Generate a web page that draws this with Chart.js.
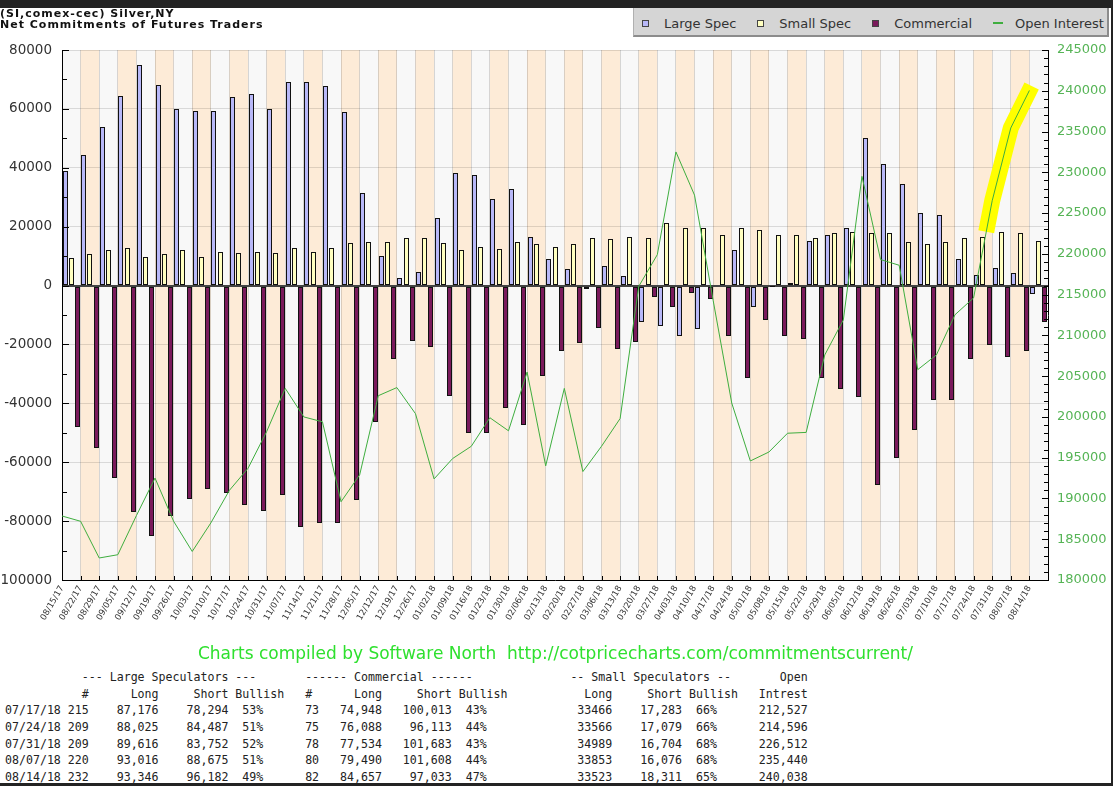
<!DOCTYPE html>
<html>
<head>
<meta charset="utf-8">
<title>Silver COT</title>
<script src="https://cdn.jsdelivr.net/npm/chart.js@4.4.1/dist/chart.umd.min.js"></script>
<style>
html, body { margin: 0; padding: 0; background: #232323; }
#page { position: absolute; left: 0; top: 8px; width: 1111px; height: 775px; background: #fff; }
#cot { position: absolute; left: 0; top: 0; }
#title { position: absolute; left: 0; top: 9px; font: bold 11px 'DejaVu Sans'; line-height: 10.7px; letter-spacing: 1px; color: #111; white-space: pre; }
#legend { position: absolute; left: 633px; top: 8px; width: 476px; height: 29px; box-sizing: border-box;
  background: #d5d5d5; border-left: 1px solid #b0b0b0; border-right: 2px solid #8c8c8c; border-bottom: 2px solid #8c8c8c;
  display: flex; align-items: center; padding: 3px 0 0 8px; font: 13px 'DejaVu Sans'; color: #333; }
#legend .item { display: flex; align-items: center; margin-right: 21px; white-space: pre; }
#legend .box { width: 5px; height: 5px; border: 1px solid #444; margin-right: 15px; }
#legend .dash { width: 10px; height: 2px; margin-right: 12px; }
#credit { position: absolute; left: 0; top: 643px; width: 1111px; text-align: center; font: 17px 'DejaVu Sans'; line-height: 20px; color: #2ee02e; white-space: pre; }
#table { position: absolute; left: 5px; top: 669px; margin: 0; font: 11.6px 'DejaVu Sans Mono'; line-height: 16.67px; color: #222; }
</style>
</head>
<body>
<div id="page"></div>
<canvas id="cot" width="1113" height="645"></canvas>
<div id="title">(SI,comex-cec) Silver,NY
Net Commitments of Futures Traders</div>
<div id="legend"></div>
<div id="credit">Charts compiled by Software North  http://cotpricecharts.com/commitmentscurrent/</div>
<pre id="table"></pre>
<script>
// weeks
const dates = ['08/15/17','08/22/17','08/29/17','09/05/17','09/12/17','09/19/17','09/26/17','10/03/17','10/10/17','10/17/17',
  '10/24/17','10/31/17','11/07/17','11/14/17','11/21/17','11/28/17','12/05/17','12/12/17','12/19/17','12/26/17',
  '01/02/18','01/09/18','01/16/18','01/23/18','01/30/18','02/06/18','02/13/18','02/20/18','02/27/18','03/06/18',
  '03/13/18','03/20/18','03/27/18','04/03/18','04/10/18','04/17/18','04/24/18','05/01/18','05/08/18','05/15/18',
  '05/22/18','05/29/18','06/05/18','06/12/18','06/19/18','06/26/18','07/03/18','07/10/18','07/17/18','07/24/18',
  '07/31/18','08/07/18','08/14/18'];

// net positions
const largeSpec = [39000,44500,53800,64500,75000,68000,60000,59400,59400,64000,
  65200,60000,69000,69000,67800,59000,31400,10200,2600,4650,
  23000,38300,37400,29400,32800,16600,9050,5700,-1300,6550,
  3150,-12300,-13600,-17100,-14800,300,12000,-7250,-300,900,
  15200,17300,19500,50100,41200,34400,24700,23800,8882,3538,
  5864,4341,-2836];
const smallSpec = [9400,10600,12000,12800,9850,10600,12000,9850,11550,11100,
  11550,11100,12800,11550,12800,14400,14800,14800,16200,16200,
  14400,12000,13200,12400,14800,14000,13200,14000,16200,15700,
  16600,16200,21300,19500,19500,17100,19500,19000,17300,17300,
  16100,17900,18200,17900,17900,14800,14000,14800,16183,16487,
  18285,17777,15212];
const commercial = [-48000,-55000,-65500,-77000,-85000,-78200,-72500,-69000,-70500,-74500,
  -76500,-71000,-82000,-80500,-80500,-72800,-46300,-25100,-18700,-20800,
  -37400,-50100,-50100,-41700,-47500,-30600,-22100,-19600,-14500,-21700,
  -19100,-3850,-7250,-2500,-4650,-17100,-31400,-11800,-17000,-18200,
  -31400,-35200,-37800,-67600,-58600,-49200,-38700,-38700,-25065,-20025,
  -24149,-22118,-12376];
const openInterest = [187850,187200,182700,183100,187900,192500,187200,183500,187000,191000,
  193700,198200,203500,200000,199400,189600,192900,202600,203600,200400,
  192400,194900,196400,199900,198300,205500,194000,203500,193300,196400,
  199800,216000,219900,232500,227200,214300,201700,194600,195700,198000,
  198100,207600,211900,229500,219300,218600,205800,207600,212527,214596,
  226512,235440,240038];

// table below the chart
const tDates = ['07/17/18','07/24/18','07/31/18','08/07/18','08/14/18'];
const lsTraders = ['215','209','209','220','232'];
const lsLong = ['87,176','88,025','89,616','93,016','93,346'];
const lsShort = ['78,294','84,487','83,752','88,675','96,182'];
const lsBull = ['53%','51%','52%','51%','49%'];
const cmTraders = ['73','75','78','80','82'];
const cmLong = ['74,948','76,088','77,534','79,490','84,657'];
const cmShort = ['100,013','96,113','101,683','101,608','97,033'];
const cmBull = ['43%','44%','43%','44%','47%'];
const ssLong = ['33466','33566','34989','33853','33523'];
const ssShort = ['17,283','17,079','16,704','16,076','18,311'];
const ssBull = ['66%','66%','68%','68%','65%'];
const oiTotal = ['212,527','214,596','226,512','235,440','240,038'];

Chart.defaults.font.family = "'DejaVu Sans', sans-serif";

// alternating week stripes
const stripes = {
  id: 'stripes',
  beforeDraw(chart) {
    const {ctx, chartArea: a, scales} = chart;
    ctx.save();
    for (let i = 0; i < dates.length; i++) {
      const x0 = scales.xl.getPixelForValue(i);
      const x1 = scales.xl.getPixelForValue(i + 1);
      ctx.fillStyle = i % 2 ? '#fdebd7' : '#f8f8f8';
      ctx.fillRect(x0, a.top, x1 - x0, a.bottom - a.top);
    }
    ctx.restore();
  }
};

// three bars side by side in each week, edges on whole pixels
const crisp = {
  id: 'crisp',
  afterDatasetsUpdate(chart) {
    const xs = chart.scales.x;
    const cat = xs.getPixelForValue(1) - xs.getPixelForValue(0);
    const slot = cat / 3;
    const w = Math.round(slot * 0.86);
    [0, 1, 2].forEach(k => {
      chart.getDatasetMeta(k).data.forEach((el, i) => {
        const left = Math.round(xs.getPixelForValue(i) - cat / 2 + slot * k + (slot - w) / 2);
        el.x = left + w / 2;
        el.width = w;
        el.y = Math.round(el.y);
        el.base = Math.round(el.base);
      });
    });
  }
};

// yellow marker over the last weeks of open interest
const marker = {
  id: 'marker',
  beforeDatasetDraw(chart, args) {
    if (args.index !== 3) return;
    const ctx = chart.ctx;
    const p = args.meta.data;
    const n = p.length;
    const t = 0.68;
    ctx.save();
    ctx.strokeStyle = '#ffff00';
    ctx.lineWidth = 16;
    ctx.lineJoin = 'round';
    ctx.beginPath();
    ctx.moveTo(p[n - 4].x + (p[n - 3].x - p[n - 4].x) * t, p[n - 4].y + (p[n - 3].y - p[n - 4].y) * t);
    ctx.lineTo(p[n - 3].x, p[n - 3].y);
    ctx.lineTo(p[n - 2].x, p[n - 2].y);
    ctx.lineTo(p[n - 1].x + (p[n - 1].x - p[n - 2].x) * 0.12, p[n - 1].y + (p[n - 1].y - p[n - 2].y) * 0.12);
    ctx.stroke();
    ctx.restore();
  }
};

// tick marks pointing into the plot
const innerTicks = {
  id: 'innerTicks',
  afterDatasetsDraw(chart) {
    const {ctx, chartArea: a, scales} = chart;
    ctx.save();
    ctx.strokeStyle = '#000';
    ctx.lineWidth = 1;
    ctx.beginPath();
    for (let v = scales.y.min; v <= scales.y.max; v += 10000) {
      const y = Math.round(scales.y.getPixelForValue(v)) + 0.5;
      ctx.moveTo(a.left, y);
      ctx.lineTo(a.left + (v % 20000 ? 5 : 7), y);
    }
    for (let v = scales.y1.min; v <= scales.y1.max; v += 1000) {
      const y = Math.round(scales.y1.getPixelForValue(v)) + 0.5;
      ctx.moveTo(a.right, y);
      ctx.lineTo(a.right - (v % 5000 ? 4 : 6), y);
    }
    for (let i = 0; i <= dates.length; i++) {
      const x = Math.round(scales.xl.getPixelForValue(i)) + 0.5;
      ctx.moveTo(x, a.bottom);
      ctx.lineTo(x, a.bottom - 4);
    }
    ctx.stroke();
    ctx.restore();
  }
};

const barStyle = {borderColor: '#111', borderWidth: 1, borderSkipped: false, order: 1};

const chart = new Chart(document.getElementById('cot'), {
  type: 'bar',
  data: {
    labels: dates,
    datasets: [
      {label: 'Large Spec', data: largeSpec, backgroundColor: '#b8b8f8', ...barStyle},
      {label: 'Small Spec', data: smallSpec, backgroundColor: '#ffffc0', ...barStyle},
      {label: 'Commercial', data: commercial, backgroundColor: '#7a1a5b', ...barStyle},
      {type: 'line', label: 'Open Interest', data: openInterest.map((v, i) => ({x: i, y: v})),
        xAxisID: 'xl', yAxisID: 'y1', borderColor: '#3fae3f', borderWidth: 1, pointRadius: 0, tension: 0, order: 0}
    ]
  },
  options: {
    responsive: false,
    animation: false,
    layout: {padding: {top: 50}},
    plugins: {legend: {display: false}, tooltip: {enabled: false}},
    scales: {
      x: {display: false, offset: true},
      xl: {
        type: 'linear', position: 'bottom', min: 0, max: dates.length, offset: false,
        afterFit(s) { s.height = 65; },
        grid: {color: 'rgba(0,0,0,0.14)', drawTicks: false, offset: false},
        border: {color: '#000'},
        ticks: {stepSize: 1, autoSkip: false, minRotation: 60, maxRotation: 60, padding: 4,
          color: '#333', font: {size: 8.5}, callback: v => dates[v] || ''}
      },
      y: {
        position: 'left', min: -100000, max: 80000,
        afterFit(s) { s.width = 62; },
        ticks: {stepSize: 20000, padding: 10, color: '#333', font: {size: 13.5}, callback: v => String(v)},
        grid: {drawTicks: false,
          color: c => c.tick.value === 0 ? '#444' : 'rgba(0,0,0,0.12)',
          lineWidth: c => c.tick.value === 0 ? 2 : 1},
        border: {color: '#000'}
      },
      y1: {
        position: 'right', min: 180000, max: 245000,
        afterFit(s) { s.width = 65; },
        ticks: {stepSize: 5000, padding: 9, color: '#56b456', font: {size: 13}, callback: v => String(v)},
        grid: {drawOnChartArea: false, drawTicks: false},
        border: {color: '#000'}
      }
    }
  },
  plugins: [stripes, crisp, marker, innerTicks]
});

// legend built from the datasets
const legend = document.getElementById('legend');
for (const ds of chart.data.datasets) {
  const item = document.createElement('span');
  item.className = 'item';
  const mark = document.createElement('span');
  if (ds.type === 'line') {
    mark.className = 'dash';
    mark.style.background = ds.borderColor;
  } else {
    mark.className = 'box';
    mark.style.background = ds.backgroundColor;
  }
  item.appendChild(mark);
  item.appendChild(document.createTextNode(ds.label));
  legend.appendChild(item);
}

// fixed width text table
function line(parts) {
  let s = '';
  for (const [text, col] of parts) s = s.padEnd(col, ' ') + text;
  return s;
}
const right = (t, end) => [t, end - t.length + 1];
const rows = [
  line([['--- Large Speculators ---', 11], ['------ Commercial ------', 43], ['-- Small Speculators --', 81], ['Open', 111]]),
  line([['#', 11], ['Long', 18], ['Short', 27], ['Bullish', 33], ['#', 43], ['Long', 50], ['Short', 59], ['Bullish', 65],
    ['Long', 83], ['Short', 92], ['Bullish', 98], ['Intrest', 108]])
];
for (let k = 0; k < tDates.length; k++) {
  rows.push(line([[tDates[k], 0], right(lsTraders[k], 11), right(lsLong[k], 21), right(lsShort[k], 31), [lsBull[k], 34],
    [cmTraders[k], 43], right(cmLong[k], 53), right(cmShort[k], 63), [cmBull[k], 66],
    right(ssLong[k], 86), right(ssShort[k], 96), [ssBull[k], 99], right(oiTotal[k], 114)]));
}
document.getElementById('table').textContent = rows.join('\n');
</script>
</body>
</html>
